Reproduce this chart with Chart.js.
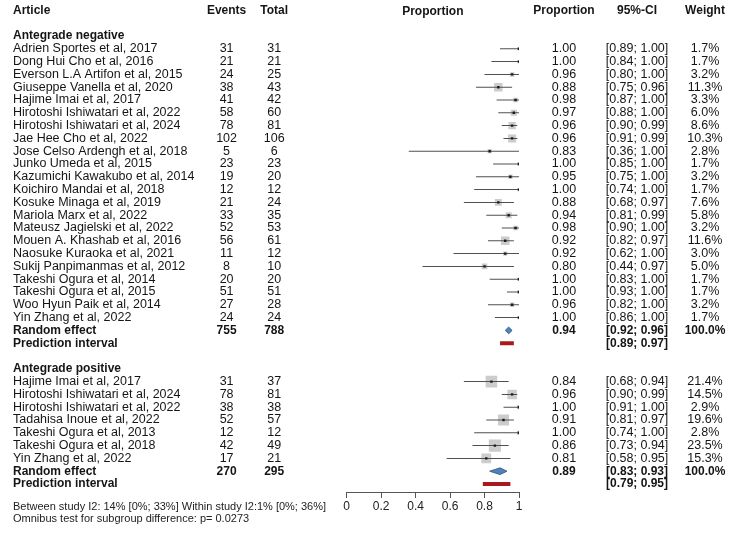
<!DOCTYPE html>
<html>
<head>
<meta charset="utf-8">
<script src="https://cdn.jsdelivr.net/npm/chart.js@4.4.1/dist/chart.umd.min.js"></script>
<style>
html,body{margin:0;padding:0;background:#fff;}
#wrap{width:736px;height:540px;position:relative;}
</style>
</head>
<body>
<div id="wrap"><canvas id="c"></canvas></div>
<script>
// ---------------- DATA ----------------
const headers = ['Article', 'Events', 'Total', 'Proportion', 'Proportion', '95%-CI', 'Weight'];
const groupNames = ['Antegrade negative', 'Antegrade positive'];

const negArticles = [
  'Adrien Sportes et al, 2017', 'Dong Hui Cho et al, 2016', 'Everson L.A Artifon et al, 2015',
  'Giuseppe Vanella et al, 2020', 'Hajime Imai et al, 2017', 'Hirotoshi Ishiwatari et al, 2022',
  'Hirotoshi Ishiwatari et al, 2024', 'Jae Hee Cho et al, 2022', 'Jose Celso Ardengh et al, 2018',
  'Junko Umeda et al, 2015', 'Kazumichi Kawakubo et al, 2014', 'Koichiro Mandai et al, 2018',
  'Kosuke Minaga et al, 2019', 'Mariola Marx et al, 2022', 'Mateusz Jagielski et al, 2022',
  'Mouen A. Khashab et al, 2016', 'Naosuke Kuraoka et al, 2021', 'Sukij Panpimanmas et al, 2012',
  'Takeshi Ogura et al, 2014', 'Takeshi Ogura et al, 2015', 'Woo Hyun Paik et al, 2014',
  'Yin Zhang et al, 2022'
];
const negEvents = [31, 21, 24, 38, 41, 58, 78, 102, 5, 23, 19, 12, 21, 33, 52, 56, 11, 8, 20, 51, 27, 24];
const negTotals = [31, 21, 25, 43, 42, 60, 81, 106, 6, 23, 20, 12, 24, 35, 53, 61, 12, 10, 20, 51, 28, 24];
const negProportion = [1.00, 1.00, 0.96, 0.88, 0.98, 0.97, 0.96, 0.96, 0.83, 1.00, 0.95, 1.00, 0.88, 0.94, 0.98, 0.92, 0.92, 0.80, 1.00, 1.00, 0.96, 1.00];
const negLower = [0.89, 0.84, 0.80, 0.75, 0.87, 0.88, 0.90, 0.91, 0.36, 0.85, 0.75, 0.74, 0.68, 0.81, 0.90, 0.82, 0.62, 0.44, 0.83, 0.93, 0.82, 0.86];
const negUpper = [1.00, 1.00, 1.00, 0.96, 1.00, 1.00, 0.99, 0.99, 1.00, 1.00, 1.00, 1.00, 0.97, 0.99, 1.00, 0.97, 1.00, 0.97, 1.00, 1.00, 1.00, 1.00];
const negWeight = [1.7, 1.7, 3.2, 11.3, 3.3, 6.0, 8.6, 10.3, 2.8, 1.7, 3.2, 1.7, 7.6, 5.8, 3.2, 11.6, 3.0, 5.0, 1.7, 1.7, 3.2, 1.7];

const posArticles = [
  'Hajime Imai et al, 2017', 'Hirotoshi Ishiwatari et al, 2024', 'Hirotoshi Ishiwatari et al, 2022',
  'Tadahisa Inoue et al, 2022', 'Takeshi Ogura et al, 2013', 'Takeshi Ogura et al, 2018',
  'Yin Zhang et al, 2022'
];
const posEvents = [31, 78, 38, 52, 12, 42, 17];
const posTotals = [37, 81, 38, 57, 12, 49, 21];
const posProportion = [0.84, 0.96, 1.00, 0.91, 1.00, 0.86, 0.81];
const posLower = [0.68, 0.90, 0.91, 0.81, 0.74, 0.73, 0.58];
const posUpper = [0.94, 0.99, 1.00, 0.97, 1.00, 0.94, 0.95];
const posWeight = [21.4, 14.5, 2.9, 19.6, 2.8, 23.5, 15.3];

const randomEvents = [755, 270];
const randomTotals = [788, 295];
const randomProportion = [0.94, 0.89];
const randomLower = [0.92, 0.83];
const randomUpper = [0.96, 0.93];
const randomWeight = [100.0, 100.0];
const predLower = [0.89, 0.79];
const predUpper = [0.97, 0.95];

const xTicks = [0, 0.2, 0.4, 0.6, 0.8, 1];
const footnotes = [
  'Between study I2: 14% [0%; 33%] Within study I2:1% [0%; 36%]',
  'Omnibus test for subgroup difference: p= 0.0273'
];

// ---------------- LAYOUT / STYLE ----------------
const FONT = "'Liberation Sans', Arial, sans-serif";
const TEXT = '#151515';
const REG_SIZE = 12.5, BOLD_SIZE = 12;
const ROW0_Y = 36, ROW_H = 12.8;     // pixel of row 2 and row spacing
const AREA_TOP = 20, AREA_BOTTOM = 501;
const Y_MIN = 2 + (AREA_TOP - ROW0_Y) / ROW_H;
const Y_MAX = 2 + (AREA_BOTTOM - ROW0_Y) / ROW_H;
const AXIS_ROW = 37.66;
const SQ = 2.5;     // square side factor (x sqrt(weight))
const DH = 0.26;    // diamond half height in rows

// ---------------- ROWS ----------------
const groups = [
  {name: groupNames[0], art: negArticles, ev: negEvents, tot: negTotals, p: negProportion, lo: negLower, hi: negUpper, w: negWeight},
  {name: groupNames[1], art: posArticles, ev: posEvents, tot: posTotals, p: posProportion, lo: posLower, hi: posUpper, w: posWeight}
];
const rows = [{kind: 'header'}, {kind: 'blank'}];
groups.forEach((g, gi) => {
  if (gi > 0) rows.push({kind: 'blank'});
  rows.push({kind: 'group', label: g.name});
  g.art.forEach((a, i) => rows.push({kind: 'study', label: a, ev: g.ev[i], tot: g.tot[i], p: g.p[i], lo: g.lo[i], hi: g.hi[i], w: g.w[i]}));
  rows.push({kind: 're', label: 'Random effect', ev: randomEvents[gi], tot: randomTotals[gi], p: randomProportion[gi], lo: randomLower[gi], hi: randomUpper[gi], w: randomWeight[gi]});
  rows.push({kind: 'pi', label: 'Prediction interval', lo: predLower[gi], hi: predUpper[gi]});
});
rows.forEach((r, i) => r.row = i);
const isBold = r => r && (r.kind === 'header' || r.kind === 'group' || r.kind === 're' || r.kind === 'pi');
const f2 = v => v.toFixed(2);

const colText = {
  article: r => r.kind === 'header' ? headers[0] : (r.label || ''),
  events: r => r.kind === 'header' ? headers[1] : (r.ev != null ? String(r.ev) : ''),
  total: r => r.kind === 'header' ? headers[2] : (r.tot != null ? String(r.tot) : ''),
  prop: r => r.kind === 'header' ? headers[4] : (r.p != null ? f2(r.p) : ''),
  ci: r => r.kind === 'header' ? headers[5] : (r.lo != null ? '[' + f2(r.lo) + '; ' + f2(r.hi) + ']' : ''),
  weight: r => r.kind === 'header' ? headers[6] : (r.w != null ? r.w.toFixed(1) + '%' : '')
};

const mctx = document.createElement('canvas').getContext('2d');
function fontStr(bold) { return (bold ? 'bold ' + BOLD_SIZE : 'normal ' + REG_SIZE) + 'px ' + FONT; }
function widestOf(labels) {
  let m = 0;
  labels.forEach((l, i) => { if (l) { mctx.font = fontStr(isBold(rows[i])); m = Math.max(m, mctx.measureText(l).width); } });
  return m;
}

function textAxis(key, position, weight, from, to, center) {
  const labels = rows.map(colText[key]);
  const idx = labels.map((l, i) => l ? i : -1).filter(i => i >= 0);
  const width = to - from;
  let align = 'far', pad = 0;
  if (center != null) {
    const wd = widestOf(labels);
    align = 'center';
    pad = position === 'left' ? (to - center - wd / 2) : (center - from - wd / 2);
  }
  return {
    type: 'linear', position, weight, reverse: true, min: Y_MIN, max: Y_MAX, bounds: 'data', offset: false,
    grid: {display: false, drawTicks: false}, border: {display: false},
    afterBuildTicks: s => { s.ticks = idx.map(v => ({value: v})); },
    afterFit: s => { s.width = width; s.paddingTop = 0; s.paddingBottom = 0; s.paddingLeft = 0; s.paddingRight = 0; },
    ticks: {
      autoSkip: false, maxTicksLimit: 1000, sampleSize: 1000, crossAlign: align, padding: pad, color: TEXT,
      font: ctx => {
        const b = ctx.tick && isBold(rows[ctx.tick.value]);
        return {family: FONT, size: b ? BOLD_SIZE : REG_SIZE, weight: b ? 'bold' : 'normal'};
      },
      callback: v => labels[v]
    }
  };
}

const studyRows = rows.filter(r => r.kind === 'study');
const reRows = rows.filter(r => r.kind === 're');
const piRows = rows.filter(r => r.kind === 'pi');

const datasets = [
  {
    type: 'scatter', label: 'weights',
    data: studyRows.map(r => ({x: r.p, y: r.row, w: r.w})),
    pointStyle: 'rect', pointRadius: ctx => ctx.raw ? SQ * Math.sqrt(ctx.raw.w) / Math.SQRT2 : 0,
    backgroundColor: '#cccccc', borderWidth: 0, order: 5
  },
  {
    type: 'bar', label: 'ci', indexAxis: 'y', grouped: false, inflateAmount: 0,
    data: studyRows.map(r => ({x: [r.lo, r.hi], y: r.row})),
    barThickness: 1, backgroundColor: '#505050', borderWidth: 0, order: 4
  },
  {
    type: 'scatter', label: 'estimates',
    data: studyRows.map(r => ({x: r.p, y: r.row})),
    pointStyle: 'rect', pointRadius: 1.7, backgroundColor: '#1a1a1a', borderWidth: 0, order: 3
  },
  ...reRows.map(r => ({
    type: 'line', label: 'random',
    data: [{x: r.lo, y: r.row}, {x: r.p, y: r.row - DH}, {x: r.hi, y: r.row}, {x: r.p, y: r.row + DH}, {x: r.lo, y: r.row}],
    fill: 'shape', backgroundColor: '#4f83ba', borderColor: '#3a6690', borderWidth: 1,
    pointRadius: 0, tension: 0, order: 2
  })),
  {
    type: 'bar', label: 'prediction', indexAxis: 'y', grouped: false, inflateAmount: 0,
    data: piRows.map(r => ({x: [r.lo, r.hi], y: r.row})),
    barThickness: 4, backgroundColor: '#a8181f', borderWidth: 0, order: 1
  }
];

const scales = {
  x: {
    type: 'linear', min: 0, max: 1, position: {y: AXIS_ROW}, offset: false,
    afterBuildTicks: s => { s.ticks = xTicks.map(v => ({value: v})); },
    grid: {drawOnChartArea: false, tickLength: 5, color: '#555', lineWidth: 1, offset: false},
    border: {color: '#555', width: 1},
    ticks: {color: '#222', padding: 2, font: {family: FONT, size: 12}, callback: v => String(v), maxRotation: 0, autoSkip: false}
  },
  y: {type: 'linear', display: false, reverse: true, min: Y_MIN, max: Y_MAX, bounds: 'data', offset: false, grid: {offset: false}},
  colArticle: textAxis('article', 'left', 3, 13, 196, null),
  colEvents: textAxis('events', 'left', 2, 196, 250, 226.6),
  colTotal: textAxis('total', 'left', 1, 250, 346.7, 274.2),
  colProp: textAxis('prop', 'right', 1, 519, 600, 564),
  colCI: textAxis('ci', 'right', 2, 600, 680, 637),
  colWeight: textAxis('weight', 'right', 3, 680, 736, 705)
};

new Chart(document.getElementById('c'), {
  type: 'scatter',
  data: {datasets},
  options: {
    responsive: true, maintainAspectRatio: false, animation: false, events: [],
    layout: {padding: {left: 13, right: 0, top: 0, bottom: 0}},
    scales,
    plugins: {
      legend: {display: false},
      tooltip: {enabled: false},
      title: {
        display: true, text: headers[3], position: 'top', fullSize: false, align: 'center', color: TEXT,
        font: {family: FONT, size: 12, weight: 'bold', lineHeight: 1.2}, padding: {top: 4, bottom: 1.6}
      },
      subtitle: {
        display: true, text: footnotes, position: 'bottom', align: 'start', color: '#222',
        font: {family: FONT, size: 11, weight: 'normal', lineHeight: 12 / 11}, padding: {top: 0, bottom: 15}
      }
    }
  }
});
</script>
</body>
</html>
